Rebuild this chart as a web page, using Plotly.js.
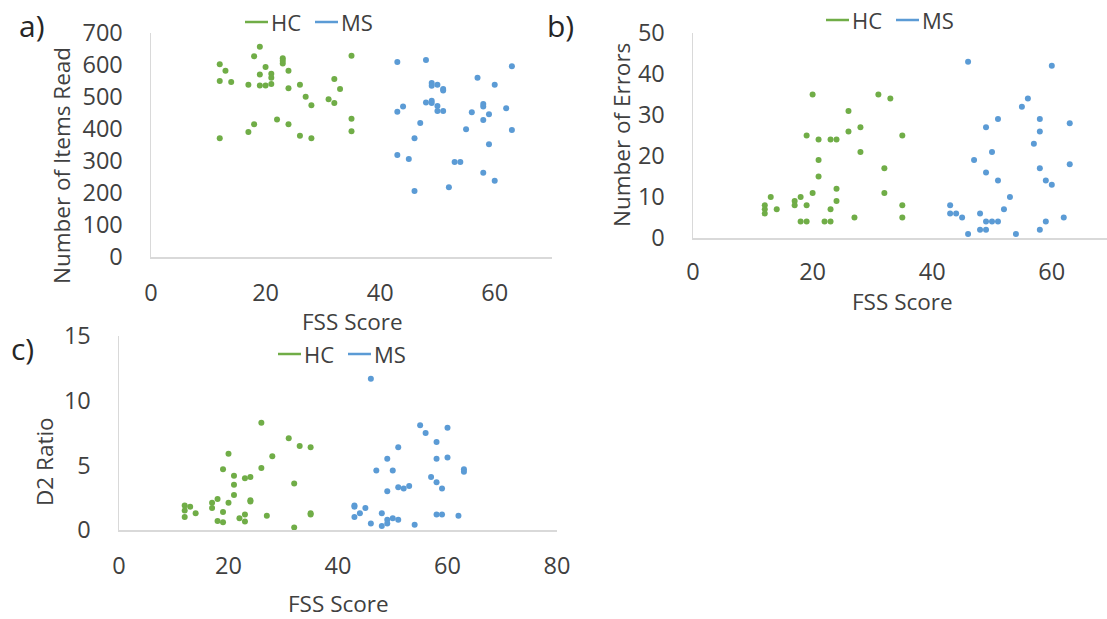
<!DOCTYPE html>
<html>
<head>
<meta charset="utf-8">
<script src="https://cdn.plot.ly/plotly-3.0.1.min.js"></script>
<style>
  html, body { margin: 0; padding: 0; background: #ffffff; }
  #chart { width: 1107px; height: 619px; }
</style>
</head>
<body>
<div id="chart"></div>
<script>
// ---- a) Number of items read vs FSS score ----
const hcA_fss   = [12, 13, 12, 14, 12, 19, 18, 20, 19, 21, 21, 17, 19, 20, 21, 23, 23, 23, 24, 24, 26, 27, 28, 31, 32, 32, 33, 35, 35, 35, 22, 18, 17, 24, 26, 28];
const hcA_items = [602, 582, 550, 547, 371, 657, 627, 594, 570, 573, 560, 538, 536, 536, 541, 621, 613, 605, 582, 527, 538, 501, 474, 493, 481, 556, 525, 629, 432, 393, 430, 415, 391, 415, 379, 371];
const msA_fss   = [43, 48, 63, 57, 60, 49, 49, 50, 51, 51, 48, 49, 49, 50, 50, 51, 44, 43, 47, 46, 43, 45, 46, 52, 53, 54, 56, 58, 58, 59, 58, 55, 62, 63, 59, 58, 60];
const msA_items = [609, 616, 596, 560, 538, 544, 535, 538, 525, 520, 483, 488, 481, 472, 456, 456, 470, 454, 419, 371, 319, 306, 206, 218, 297, 297, 452, 478, 470, 446, 428, 399, 465, 397, 352, 263, 238];

// ---- b) Number of errors vs FSS score ----
const hcB_fss    = [20, 31, 33, 26, 19, 21, 23, 24, 26, 28, 35, 28, 21, 21, 32, 32, 24, 20, 24, 13, 18, 17, 17, 19, 12, 12, 12, 14, 23, 35, 35, 27, 18, 19, 22, 23];
const hcB_errors = [35, 35, 34, 31, 25, 24, 24, 24, 26, 27, 25, 21, 19, 15, 17, 11, 12, 11, 9, 10, 10, 9, 8, 8, 8, 7, 6, 7, 7, 8, 5, 5, 4, 4, 4, 4];
const msB_fss    = [46, 60, 56, 55, 51, 58, 49, 58, 63, 57, 50, 47, 58, 63, 49, 51, 59, 60, 53, 52, 43, 43, 44, 45, 48, 49, 50, 51, 59, 62, 46, 48, 49, 54, 58];
const msB_errors = [43, 42, 34, 32, 29, 29, 27, 26, 28, 23, 21, 19, 17, 18, 16, 14, 14, 13, 10, 7, 8, 6, 6, 5, 6, 4, 4, 4, 4, 5, 1, 2, 2, 1, 2];

// ---- c) D2 ratio vs FSS score ----
const hcC_fss   = [26, 31, 33, 35, 20, 28, 19, 26, 21, 23, 24, 21, 32, 21, 18, 17, 17, 20, 24, 24, 12, 12, 12, 13, 14, 19, 18, 19, 22, 23, 23, 27, 32, 35, 35];
const hcC_ratio = [8.3, 7.1, 6.5, 6.4, 5.9, 5.7, 4.7, 4.8, 4.2, 4.0, 4.1, 3.5, 3.6, 2.7, 2.4, 2.1, 1.7, 2.1, 2.3, 2.2, 1.9, 1.5, 1.0, 1.8, 1.3, 1.4, 0.7, 0.6, 0.9, 1.2, 0.65, 1.1, 0.2, 1.3, 1.2];
const msC_fss   = [46, 55, 56, 60, 58, 51, 49, 58, 60, 47, 50, 63, 63, 57, 58, 59, 51, 52, 53, 49, 43, 43, 45, 44, 43, 48, 58, 59, 62, 46, 48, 49, 49, 50, 51, 54];
const msC_ratio = [11.7, 8.1, 7.5, 7.9, 6.8, 6.4, 5.5, 5.5, 5.6, 4.6, 4.6, 4.7, 4.5, 4.1, 3.7, 3.2, 3.3, 3.2, 3.4, 3.0, 1.9, 1.8, 1.7, 1.3, 1.0, 1.3, 1.2, 1.2, 1.1, 0.5, 0.3, 0.8, 0.5, 0.9, 0.8, 0.4];

const groupNames = ['HC', 'MS'];
const xTitle = 'FSS Score';
const yTitles = ['Number of Items Read', 'Number of Errors', 'D2 Ratio'];
const panelLabels = ['a)', 'b)', 'c)'];

const GREEN = '#70AD47';
const BLUE = '#5B9BD5';
const TEXT = '#404040';
const FONT = 'Open Sans, Noto Sans, sans-serif';

const W = 1107, H = 619;
const px = v => v / W;          // pixel column -> paper x
const py = v => 1 - v / H;      // pixel row    -> paper y

function pts(x, y, color, xa, ya, name) {
  return {
    type: 'scatter', mode: 'markers', x: x, y: y, name: name,
    xaxis: xa, yaxis: ya, showlegend: false, hoverinfo: 'x+y',
    marker: { color: color, size: 6, line: { width: 0 } }
  };
}

const traces = [
  pts(hcA_fss, hcA_items, GREEN, 'x', 'y', groupNames[0]),
  pts(msA_fss, msA_items, BLUE, 'x', 'y', groupNames[1]),
  pts(hcB_fss, hcB_errors, GREEN, 'x2', 'y2', groupNames[0]),
  pts(msB_fss, msB_errors, BLUE, 'x2', 'y2', groupNames[1]),
  pts(hcC_fss, hcC_ratio, GREEN, 'x3', 'y3', groupNames[0]),
  pts(msC_fss, msC_ratio, BLUE, 'x3', 'y3', groupNames[1])
];

function xAxis(domain, range, anchor, standoff) {
  return {
    domain: domain, range: range, anchor: anchor, dtick: 20, tick0: 0,
    showgrid: false, zeroline: false, showline: true, linecolor: '#D9D9D9', linewidth: 1.5,
    ticks: '', ticklabelstandoff: standoff,
    tickfont: { family: FONT, size: 23.5, color: TEXT }, fixedrange: true
  };
}
function yAxis(domain, range, dtick, anchor) {
  return {
    domain: domain, range: range, anchor: anchor, dtick: dtick, tick0: 0,
    showgrid: false, zeroline: false, showline: true, linecolor: '#D9D9D9', linewidth: 1.5,
    ticks: '', ticklabelstandoff: 22,
    tickfont: { family: FONT, size: 23.5, color: TEXT }, fixedrange: true
  };
}

const annotations = [];
const shapes = [];
function text(t, x, y, size, opts) {
  annotations.push(Object.assign({
    text: t, xref: 'paper', yref: 'paper', x: px(x), y: py(y),
    showarrow: false, font: { family: FONT, size: size, color: TEXT },
    xanchor: 'center', yanchor: 'middle', borderpad: 0
  }, opts || {}));
}
function legend(x0, y) {
  // line key + label for each group
  const keys = [[GREEN, groupNames[0]], [BLUE, groupNames[1]]];
  let x = x0;
  keys.forEach(([c, name]) => {
    shapes.push({ type: 'line', xref: 'paper', yref: 'paper',
      x0: px(x), x1: px(x + 23), y0: py(y), y1: py(y),
      line: { color: c, width: 2.5 } });
    text(name, x + 25, y, 22, { xanchor: 'left' });
    x += 70;
  });
}

// panel labels
const labelFont = { family: FONT, size: 30, color: '#262626' };
text(panelLabels[0], 32, 25, 30, { font: labelFont });
text(panelLabels[1], 560, 25, 30, { font: labelFont });
text(panelLabels[2], 22, 348, 30, { font: labelFont });

// axis titles
text(xTitle, 352, 321, 22.5);
text(xTitle, 902, 301, 22.5);
text(xTitle, 338, 603, 22.5);
text(yTitles[0], 62, 166, 22.5, { textangle: -90 });
text(yTitles[1], 622, 135, 22.5, { textangle: -90 });
text(yTitles[2], 44, 462, 22.5, { textangle: -90 });

// legends
legend(245, 22);
legend(826, 20);
legend(278, 354);

const layout = {
  width: W, height: H,
  margin: { l: 0, r: 0, t: 0, b: 0, pad: 0 },
  paper_bgcolor: '#ffffff', plot_bgcolor: '#ffffff',
  showlegend: false,
  font: { family: FONT, color: TEXT },
  xaxis:  xAxis([px(151), px(552)], [0, 70], 'y', 14),
  yaxis:  yAxis([py(257), py(33)], [0, 700], 100, 'x'),
  xaxis2: xAxis([px(693), 1], [0, (W - 693) / 5.98], 'y2', 12),
  yaxis2: yAxis([py(238), py(33)], [0, 50], 10, 'x2'),
  xaxis3: xAxis([px(119), px(557)], [0, 80], 'y3', 14),
  yaxis3: yAxis([py(530), py(336)], [0, 15], 5, 'x3'),
  annotations: annotations,
  shapes: shapes
};

Plotly.newPlot('chart', traces, layout, { staticPlot: true, displayModeBar: false });
</script>
</body>
</html>
